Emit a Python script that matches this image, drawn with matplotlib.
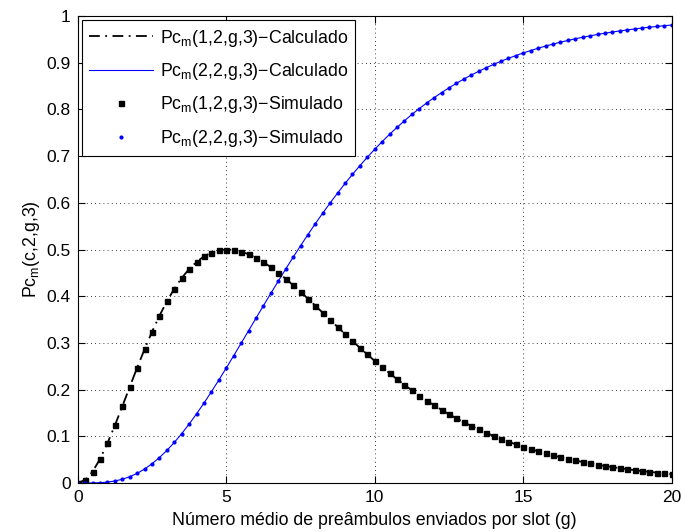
import numpy as np
import matplotlib
matplotlib.use("Agg")
import matplotlib.pyplot as plt

plt.rcParams["font.family"] = ["Liberation Sans", "DejaVu Sans"]
plt.rcParams["mathtext.default"] = "regular"

# g from 0 to 20, step 0.25
g = np.arange(81) * 0.25

pc1 = [0.0, 0.0066, 0.0246, 0.0516, 0.0853, 0.1234, 0.1641, 0.2058, 0.2470,
       0.2866, 0.3239, 0.3581, 0.3888, 0.4159, 0.4390, 0.4582, 0.4735, 0.4852,
       0.4933, 0.4982, 0.5000, 0.4990, 0.4956, 0.4899, 0.4823, 0.4731, 0.4623,
       0.4504, 0.4375, 0.4238, 0.4095, 0.3948, 0.3797, 0.3645, 0.3493, 0.3341,
       0.3190, 0.3041, 0.2895, 0.2753, 0.2614, 0.2479, 0.2349, 0.2223, 0.2101,
       0.1985, 0.1873, 0.1766, 0.1664, 0.1567, 0.1474, 0.1386, 0.1302, 0.1223,
       0.1147, 0.1076, 0.1009, 0.0946, 0.0886, 0.0829, 0.0776, 0.0726, 0.0679,
       0.0635, 0.0593, 0.0554, 0.0517, 0.0483, 0.0451, 0.0421, 0.0392, 0.0366,
       0.0341, 0.0318, 0.0296, 0.0276, 0.0257, 0.0240, 0.0223, 0.0208, 0.0193]

pc2 = [0.0, 0.0000, 0.0002, 0.0007, 0.0020, 0.0044, 0.0081, 0.0136, 0.0208,
       0.0301, 0.0413, 0.0546, 0.0698, 0.0869, 0.1058, 0.1263, 0.1482, 0.1713,
       0.1955, 0.2206, 0.2463, 0.2726, 0.2992, 0.3260, 0.3528, 0.3796, 0.4061,
       0.4322, 0.4580, 0.4833, 0.5079, 0.5320, 0.5554, 0.5780, 0.5999, 0.6210,
       0.6414, 0.6609, 0.6796, 0.6976, 0.7147, 0.7311, 0.7467, 0.7615, 0.7757,
       0.7891, 0.8018, 0.8138, 0.8252, 0.8360, 0.8462, 0.8558, 0.8649, 0.8735,
       0.8815, 0.8891, 0.8963, 0.9030, 0.9093, 0.9152, 0.9208, 0.9260, 0.9309,
       0.9355, 0.9398, 0.9438, 0.9476, 0.9511, 0.9544, 0.9575, 0.9604, 0.9631,
       0.9656, 0.9679, 0.9701, 0.9722, 0.9741, 0.9759, 0.9776, 0.9791, 0.9806]

# simulated points (visually identical to the calculated curves)
sim1 = pc1
sim2 = pc2

fig = plt.figure(figsize=(6.82, 5.32), dpi=100)
ax = fig.add_axes([0.114, 0.092, 0.871, 0.878])

ax.plot(g, pc1, color="k", ls=(0, (6, 3, 1, 3)), lw=1.3, label="Pc$_m$(1,2,g,3)\u2212Calculado")
ax.plot(g, pc2, "-", color="#0000ff", lw=0.8, label="Pc$_m$(2,2,g,3)\u2212Calculado")
ax.plot(g, sim1, "s", color="k", ms=3.6, ls="none", label="Pc$_m$(1,2,g,3)\u2212Simulado")
ax.plot(g, sim2, ".", color="#0000ff", ms=4, ls="none", label="Pc$_m$(2,2,g,3)\u2212Simulado")

ax.set_xlim(0, 20)
ax.set_ylim(0, 1)
ax.set_xticks([0, 5, 10, 15, 20])
yt = np.round(np.arange(0, 1.01, 0.1), 1)
ax.set_yticks(yt)
ax.set_yticklabels(["0"] + ["%.1f" % v for v in yt[1:-1]] + ["1"])
ax.tick_params(direction="in", top=True, right=True, labelsize=12.5, length=5, pad=5)
ax.grid(True, color="k", ls=(0, (1, 4)), lw=0.6)
for s in ax.spines.values():
    s.set_linewidth(0.8)

ax.set_xlabel("Número médio de preâmbulos enviados por slot (g)", fontsize=12.8, labelpad=5)
ax.set_ylabel("Pc$_m$(c,2,g,3)", fontsize=12.8, labelpad=3)

leg = ax.legend(loc="upper left", fontsize=12.8, handlelength=3.6, handletextpad=0.35,
                borderpad=0.4, labelspacing=0.7, fancybox=False, framealpha=1,
                edgecolor="k", borderaxespad=0.25)
leg.get_frame().set_linewidth(0.8)

fig.savefig("out.png", dpi=100)
